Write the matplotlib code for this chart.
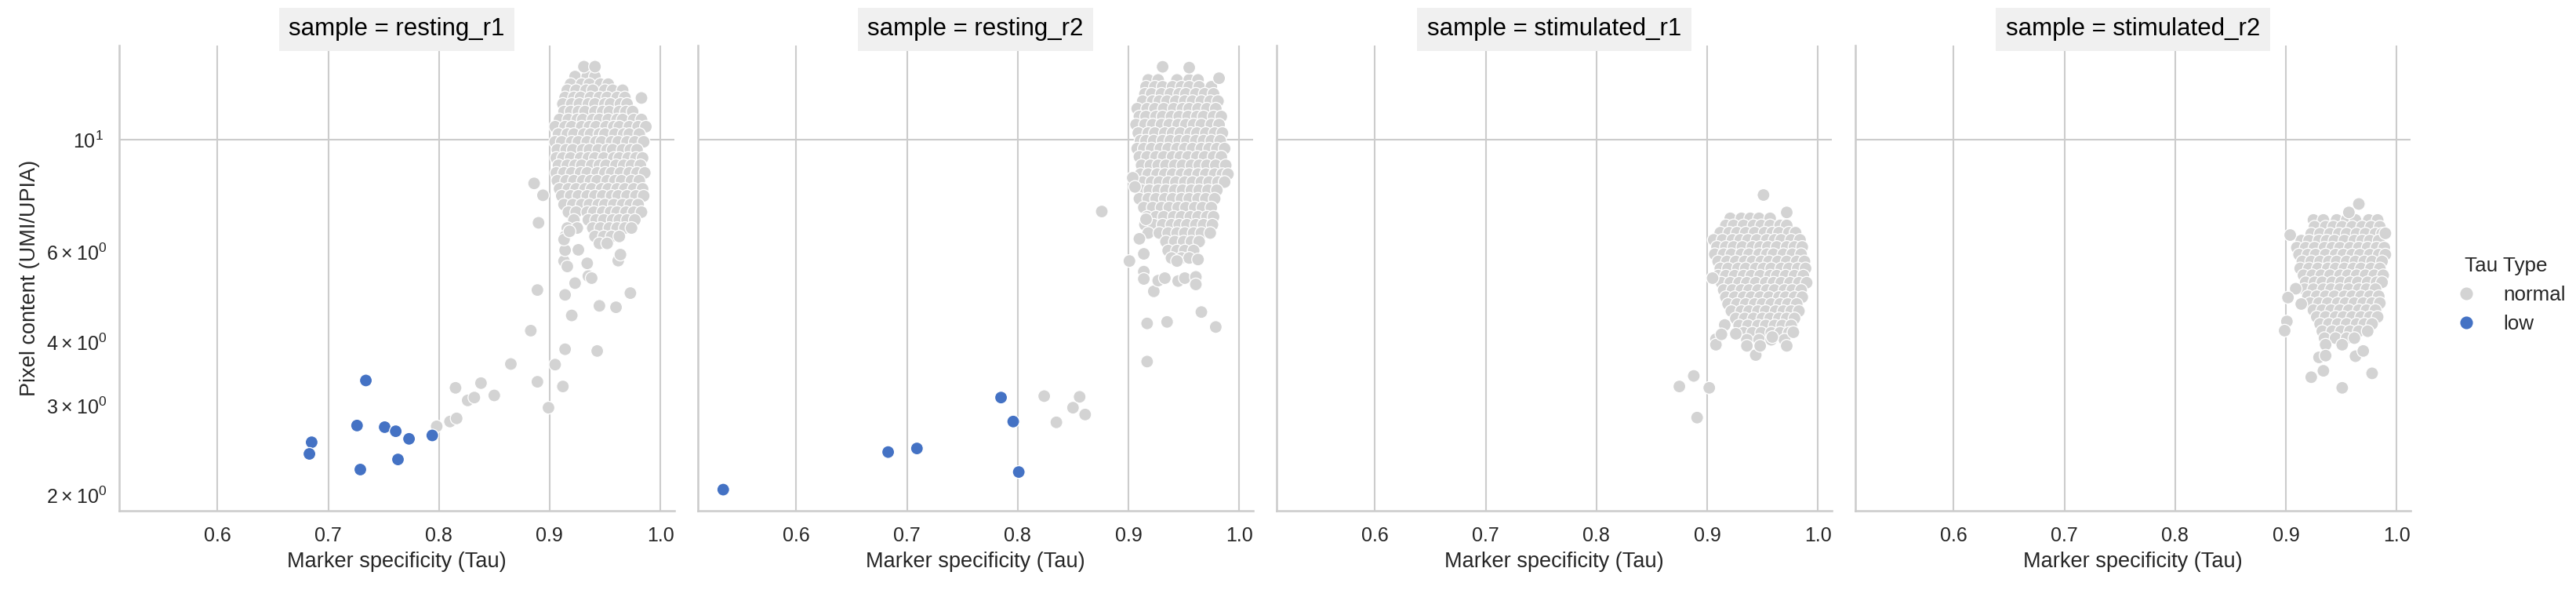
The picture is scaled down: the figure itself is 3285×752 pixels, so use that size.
import matplotlib
matplotlib.use("Agg")
import matplotlib.pyplot as plt
import pandas as pd
import seaborn as sns

SAMPLES = ["resting_r1", "resting_r2", "stimulated_r1", "stimulated_r2"]
HUE_ORDER = ["normal", "low"]
PALETTE = {"normal": "#d3d3d3", "low": "#4472c4"}
X_COL = "Marker specificity (Tau)"
Y_COL = "Pixel content (UMI/UPIA)"

# dense cluster of each sample, read as rows: (pixel content, [tau values])
R1_ROWS = [
    (13.3, [0.923, 0.934, 0.941]),
    (12.85, [0.919, 0.929, 0.936, 0.946, 0.953]),
    (12.5, [0.916, 0.924, 0.933, 0.939, 0.950, 0.957, 0.966]),
    (12.1, [0.914, 0.922, 0.928, 0.937, 0.945, 0.952, 0.961, 0.968]),
    (11.75, [0.912, 0.920, 0.927, 0.935, 0.941, 0.950, 0.955, 0.964, 0.970]),
    (11.35, [0.913, 0.919, 0.926, 0.932, 0.941, 0.948, 0.954, 0.963, 0.969, 0.975]),
    (10.95, [0.909, 0.917, 0.925, 0.930, 0.939, 0.945, 0.953, 0.961, 0.966, 0.976, 0.983]),
    (10.6, [0.905, 0.914, 0.920, 0.929, 0.936, 0.942, 0.951, 0.958, 0.963, 0.972, 0.980, 0.987]),
    (10.25, [0.908, 0.916, 0.922, 0.931, 0.937, 0.945, 0.950, 0.959, 0.967, 0.972, 0.981]),
    (9.9, [0.905, 0.911, 0.920, 0.926, 0.934, 0.942, 0.947, 0.956, 0.962, 0.970, 0.977, 0.985]),
    (9.55, [0.907, 0.915, 0.921, 0.930, 0.936, 0.944, 0.952, 0.957, 0.966, 0.973, 0.979]),
    (9.2, [0.906, 0.912, 0.919, 0.928, 0.935, 0.941, 0.949, 0.958, 0.963, 0.971, 0.978, 0.984]),
    (8.9, [0.908, 0.916, 0.923, 0.929, 0.938, 0.945, 0.951, 0.960, 0.967, 0.974, 0.982]),
    (8.6, [0.906, 0.913, 0.920, 0.928, 0.934, 0.943, 0.950, 0.956, 0.964, 0.972, 0.979, 0.986]),
    (8.3, [0.907, 0.915, 0.922, 0.930, 0.937, 0.943, 0.952, 0.959, 0.965, 0.974, 0.981]),
    (8.0, [0.909, 0.917, 0.924, 0.932, 0.938, 0.947, 0.953, 0.961, 0.968, 0.976, 0.984]),
    (7.75, [0.911, 0.919, 0.926, 0.934, 0.941, 0.948, 0.956, 0.962, 0.970, 0.978, 0.985]),
    (7.45, [0.913, 0.921, 0.929, 0.936, 0.944, 0.950, 0.958, 0.966, 0.973, 0.980]),
    (7.2, [0.917, 0.924, 0.934, 0.940, 0.948, 0.955, 0.961, 0.969, 0.976, 0.983]),
    (6.95, [0.922, 0.935, 0.942, 0.949, 0.957, 0.963, 0.970, 0.977]),
    (6.7, [0.916, 0.925, 0.939, 0.946, 0.954, 0.961, 0.968, 0.974]),
    (6.45, [0.914, 0.941, 0.949, 0.956, 0.963]),
    (6.25, [0.945, 0.952]),
]
R1_NORMAL_X = [0.798, 0.810, 0.816, 0.815, 0.826, 0.832, 0.838, 0.850, 0.865, 0.883,
               0.889, 0.889, 0.899, 0.905, 0.912, 0.914, 0.920, 0.914, 0.923, 0.945,
               0.943, 0.960, 0.973, 0.935, 0.938, 0.934, 0.913, 0.916, 0.914, 0.926,
               0.913, 0.918, 0.962, 0.964, 0.890, 0.894, 0.886, 0.983, 0.931, 0.941]
R1_NORMAL_Y = [2.73, 2.79, 2.83, 3.25, 3.07, 3.11, 3.32, 3.14, 3.62, 4.21,
               5.06, 3.34, 2.97, 3.61, 3.27, 3.87, 4.51, 4.95, 5.22, 4.71,
               3.84, 4.68, 4.99, 5.39, 5.34, 5.71, 5.77, 5.63, 6.06, 6.07,
               6.36, 6.60, 5.78, 5.94, 6.86, 7.77, 8.20, 12.07, 13.91, 13.91]
R1_LOW_X = [0.685, 0.683, 0.734, 0.726, 0.751, 0.761, 0.773, 0.794, 0.763, 0.729]
R1_LOW_Y = [2.54, 2.41, 3.36, 2.74, 2.72, 2.67, 2.58, 2.62, 2.35, 2.245]

R2_ROWS = [
    (13.1, [0.918, 0.927, 0.944, 0.955, 0.963]),
    (12.7, [0.916, 0.924, 0.931, 0.940, 0.948, 0.955, 0.964, 0.975]),
    (12.3, [0.915, 0.921, 0.930, 0.938, 0.946, 0.952, 0.961, 0.969, 0.977]),
    (11.9, [0.913, 0.922, 0.928, 0.935, 0.943, 0.951, 0.958, 0.966, 0.974, 0.981]),
    (11.5, [0.908, 0.917, 0.924, 0.932, 0.941, 0.949, 0.955, 0.963, 0.971, 0.979]),
    (11.1, [0.910, 0.916, 0.925, 0.931, 0.939, 0.946, 0.954, 0.962, 0.968, 0.977, 0.984]),
    (10.7, [0.907, 0.915, 0.922, 0.930, 0.937, 0.945, 0.952, 0.959, 0.966, 0.975, 0.982]),
    (10.3, [0.909, 0.918, 0.924, 0.933, 0.940, 0.947, 0.956, 0.962, 0.970, 0.978, 0.985]),
    (9.95, [0.911, 0.916, 0.923, 0.931, 0.938, 0.946, 0.953, 0.961, 0.968, 0.975, 0.983]),
    (9.6, [0.908, 0.914, 0.921, 0.929, 0.936, 0.944, 0.951, 0.958, 0.966, 0.973, 0.980, 0.987]),
    (9.25, [0.910, 0.917, 0.925, 0.932, 0.940, 0.947, 0.954, 0.962, 0.969, 0.977, 0.984]),
    (8.9, [0.912, 0.920, 0.927, 0.934, 0.942, 0.949, 0.957, 0.964, 0.971, 0.979, 0.988]),
    (8.55, [0.911, 0.918, 0.926, 0.933, 0.940, 0.948, 0.955, 0.963, 0.970, 0.978, 0.985, 0.990]),
    (8.25, [0.913, 0.921, 0.928, 0.936, 0.943, 0.951, 0.958, 0.966, 0.973, 0.981, 0.987]),
    (7.95, [0.912, 0.919, 0.927, 0.934, 0.942, 0.949, 0.957, 0.964, 0.972, 0.980]),
    (7.65, [0.910, 0.918, 0.925, 0.933, 0.940, 0.948, 0.955, 0.963, 0.970, 0.978]),
    (7.35, [0.914, 0.922, 0.930, 0.937, 0.945, 0.952, 0.960, 0.967, 0.975]),
    (7.05, [0.917, 0.925, 0.932, 0.941, 0.948, 0.956, 0.963, 0.971, 0.977]),
    (6.8, [0.915, 0.923, 0.931, 0.939, 0.946, 0.953, 0.961, 0.968, 0.976]),
    (6.55, [0.918, 0.928, 0.936, 0.944, 0.951, 0.959, 0.966, 0.974]),
    (6.3, [0.934, 0.942, 0.950, 0.957, 0.964]),
    (6.05, [0.936, 0.944, 0.951, 0.959]),
    (5.85, [0.939, 0.948, 0.955]),
]
R2_NORMAL_X = [0.876, 0.901, 0.904, 0.906, 0.914, 0.914, 0.923, 0.927, 0.933, 0.945,
               0.951, 0.961, 0.961, 0.917, 0.935, 0.966, 0.979, 0.917, 0.931, 0.955,
               0.982, 0.914, 0.910, 0.916, 0.963, 0.944,
               0.824, 0.856, 0.850, 0.861, 0.835]
R2_NORMAL_Y = [7.22, 5.77, 8.41, 8.07, 5.50, 5.32, 5.03, 5.28, 5.34, 5.27,
               5.34, 5.37, 5.19, 4.35, 4.38, 4.58, 4.28, 3.66, 13.9, 13.85,
               13.2, 5.96, 6.38, 6.97, 5.81, 5.77,
               3.13, 3.12, 2.97, 2.88, 2.78]
R2_LOW_X = [0.534, 0.683, 0.709, 0.785, 0.796, 0.801]
R2_LOW_Y = [2.05, 2.43, 2.47, 3.11, 2.79, 2.22]

S1_ROWS = [
    (7.0, [0.921, 0.931, 0.939, 0.947, 0.957]),
    (6.78, [0.917, 0.924, 0.933, 0.942, 0.949, 0.957, 0.966, 0.972]),
    (6.56, [0.912, 0.920, 0.927, 0.935, 0.943, 0.952, 0.959, 0.965, 0.974, 0.980]),
    (6.35, [0.906, 0.914, 0.923, 0.930, 0.937, 0.945, 0.954, 0.961, 0.967, 0.976, 0.984]),
    (6.15, [0.909, 0.917, 0.924, 0.932, 0.941, 0.948, 0.955, 0.963, 0.972, 0.979, 0.986]),
    (5.95, [0.907, 0.915, 0.922, 0.931, 0.938, 0.947, 0.954, 0.960, 0.969, 0.977, 0.985]),
    (5.76, [0.910, 0.918, 0.926, 0.934, 0.941, 0.949, 0.956, 0.964, 0.972, 0.981, 0.988]),
    (5.58, [0.912, 0.919, 0.928, 0.935, 0.944, 0.951, 0.958, 0.967, 0.974, 0.982, 0.989]),
    (5.4, [0.910, 0.917, 0.925, 0.933, 0.940, 0.948, 0.957, 0.963, 0.971, 0.979, 0.987]),
    (5.23, [0.913, 0.921, 0.929, 0.936, 0.944, 0.953, 0.960, 0.967, 0.975, 0.983, 0.990]),
    (5.06, [0.915, 0.923, 0.931, 0.938, 0.946, 0.954, 0.961, 0.970, 0.977, 0.985]),
    (4.9, [0.917, 0.925, 0.933, 0.940, 0.948, 0.956, 0.965, 0.971, 0.979, 0.986]),
    (4.75, [0.919, 0.927, 0.935, 0.943, 0.950, 0.958, 0.966, 0.973, 0.981]),
    (4.6, [0.922, 0.931, 0.938, 0.946, 0.953, 0.962, 0.969, 0.976, 0.983]),
    (4.45, [0.926, 0.934, 0.942, 0.950, 0.957, 0.965, 0.972, 0.979]),
    (4.31, [0.929, 0.937, 0.946, 0.953, 0.961, 0.968, 0.976]),
    (4.17, [0.933, 0.941, 0.949, 0.958, 0.966, 0.974]),
    (4.04, [0.936, 0.947, 0.958, 0.970]),
]
S1_NORMAL_X = [0.951, 0.972, 0.888, 0.875, 0.902, 0.891, 0.905, 0.908, 0.908, 0.916,
               0.913, 0.926, 0.936, 0.944, 0.948, 0.972, 0.959, 0.978]
S1_NORMAL_Y = [7.78, 7.19, 3.43, 3.27, 3.25, 2.84, 5.34, 4.05, 3.95, 4.32,
               4.14, 4.15, 3.93, 3.77, 3.93, 3.93, 4.09, 4.18]

S2_ROWS = [
    (6.95, [0.925, 0.934, 0.946, 0.955, 0.963, 0.975, 0.983]),
    (6.74, [0.926, 0.936, 0.943, 0.951, 0.960, 0.969, 0.977, 0.985]),
    (6.53, [0.923, 0.931, 0.940, 0.948, 0.955, 0.964, 0.972, 0.981, 0.987]),
    (6.33, [0.914, 0.921, 0.930, 0.937, 0.944, 0.953, 0.962, 0.969, 0.976, 0.984]),
    (6.13, [0.910, 0.918, 0.926, 0.935, 0.942, 0.949, 0.958, 0.966, 0.974, 0.982, 0.989]),
    (5.94, [0.912, 0.920, 0.927, 0.936, 0.945, 0.952, 0.960, 0.967, 0.976, 0.984, 0.990]),
    (5.76, [0.915, 0.923, 0.931, 0.939, 0.946, 0.955, 0.963, 0.971, 0.978, 0.987]),
    (5.58, [0.913, 0.921, 0.929, 0.938, 0.945, 0.953, 0.961, 0.968, 0.977, 0.985]),
    (5.41, [0.916, 0.924, 0.932, 0.940, 0.949, 0.956, 0.964, 0.972, 0.980, 0.988]),
    (5.24, [0.918, 0.926, 0.933, 0.942, 0.950, 0.958, 0.965, 0.974, 0.982, 0.987]),
    (5.08, [0.917, 0.925, 0.934, 0.941, 0.949, 0.957, 0.966, 0.973, 0.981]),
    (4.92, [0.920, 0.928, 0.936, 0.944, 0.953, 0.960, 0.968, 0.976, 0.984]),
    (4.77, [0.922, 0.930, 0.938, 0.947, 0.954, 0.962, 0.970, 0.978, 0.985]),
    (4.62, [0.925, 0.933, 0.941, 0.949, 0.957, 0.966, 0.973, 0.981]),
    (4.48, [0.928, 0.936, 0.945, 0.952, 0.960, 0.968, 0.976, 0.983]),
    (4.34, [0.931, 0.939, 0.947, 0.955, 0.964, 0.971, 0.978]),
    (4.2, [0.933, 0.942, 0.950, 0.958, 0.966, 0.974]),
    (4.07, [0.935, 0.945, 0.955, 0.962]),
    (3.95, [0.936, 0.951]),
]
S2_NORMAL_X = [0.966, 0.957, 0.904, 0.990, 0.909, 0.902, 0.901, 0.899, 0.914, 0.923,
               0.934, 0.951, 0.978, 0.930, 0.936, 0.963, 0.970]
S2_NORMAL_Y = [7.47, 7.19, 6.49, 6.54, 5.09, 4.89, 4.39, 4.21, 4.75, 3.41,
               3.51, 3.25, 3.47, 3.73, 3.76, 3.75, 3.84]


def expand(rows):
    xs, ys = [], []
    for y, row in rows:
        xs += row
        ys += [y] * len(row)
    return xs, ys


panels = [
    (SAMPLES[0], R1_ROWS, R1_NORMAL_X, R1_NORMAL_Y, R1_LOW_X, R1_LOW_Y),
    (SAMPLES[1], R2_ROWS, R2_NORMAL_X, R2_NORMAL_Y, R2_LOW_X, R2_LOW_Y),
    (SAMPLES[2], S1_ROWS, S1_NORMAL_X, S1_NORMAL_Y, [], []),
    (SAMPLES[3], S2_ROWS, S2_NORMAL_X, S2_NORMAL_Y, [], []),
]
frames = []
for sample, rows, nx, ny, lx, ly in panels:
    cx, cy = expand(rows)
    frames.append(pd.DataFrame({X_COL: cx + nx, Y_COL: cy + ny,
                                "sample": sample, "Tau Type": "normal"}))
    if lx:
        frames.append(pd.DataFrame({X_COL: lx, Y_COL: ly,
                                    "sample": sample, "Tau Type": "low"}))
df = pd.concat(frames, ignore_index=True)

sns.set_theme(style="whitegrid", rc={"xtick.labelsize": 12, "ytick.labelsize": 12,
                                     "axes.labelsize": 13})
plt.rcParams["font.family"] = ["Liberation Sans", "DejaVu Sans"]

g = sns.relplot(data=df, x=X_COL, y=Y_COL, col="sample", col_order=SAMPLES,
                hue="Tau Type", hue_order=HUE_ORDER, palette=PALETTE,
                s=60, height=5, aspect=1)
g.set(yscale="log")
g.set_titles("sample = {col_name}", size=15, color="black",
             bbox=dict(facecolor="#f0f0f0", edgecolor="none", boxstyle="square,pad=0.4"))

fig = g.figure
fig.set_size_inches(3285 / 150, 752 / 150)
fig.subplots_adjust(left=0.0463, right=0.9358, bottom=0.1343, top=0.9229, wspace=0.0424)
sns.move_legend(g, "center left", bbox_to_anchor=(0.9424, 0.5), frameon=False,
                fontsize=12.5, title_fontsize=12.5)

fig.savefig("out.png", dpi=150)
